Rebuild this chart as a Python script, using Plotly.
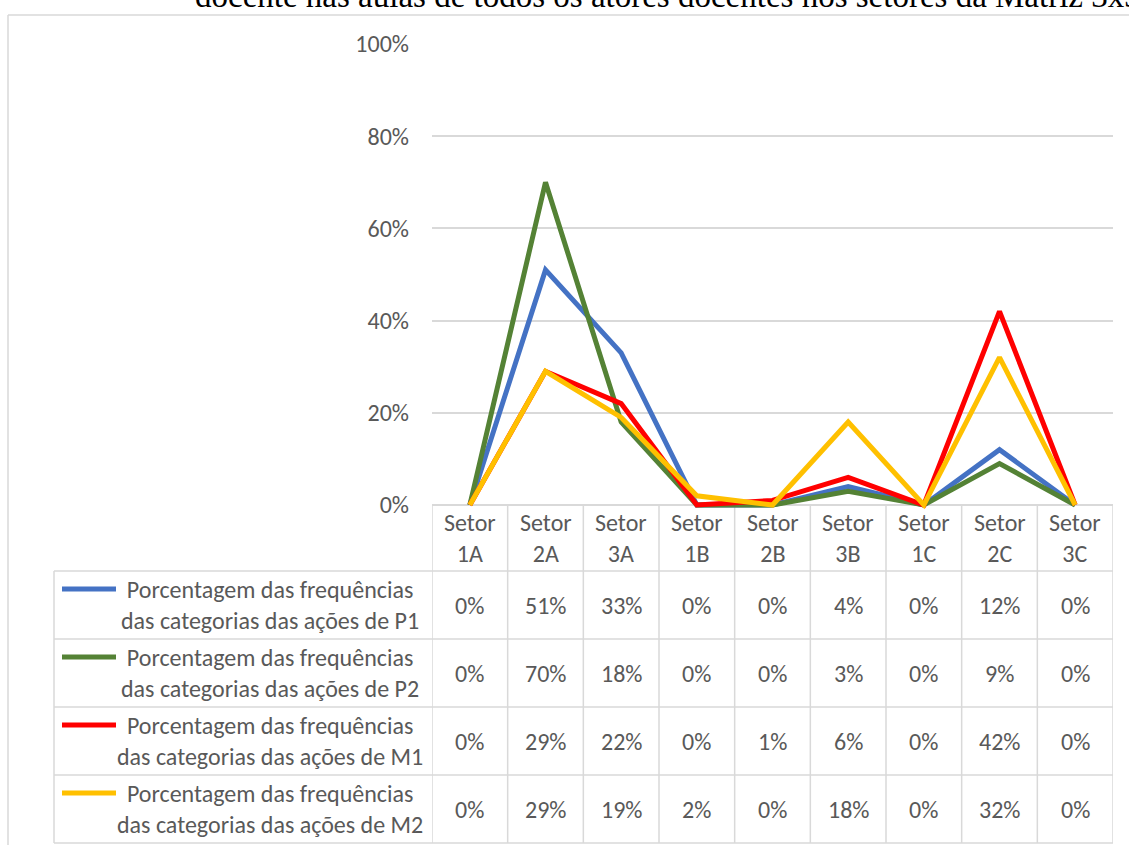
import plotly.graph_objects as go

W, H = 1129, 845

categories = ["Setor 1A", "Setor 2A", "Setor 3A", "Setor 1B", "Setor 2B",
              "Setor 3B", "Setor 1C", "Setor 2C", "Setor 3C"]
series_names = [
    "Porcentagem das frequências<br>das categorias das ações de P1",
    "Porcentagem das frequências<br>das categorias das ações de P2",
    "Porcentagem das frequências<br>das categorias das ações de M1",
    "Porcentagem das frequências<br>das categorias das ações de M2",
]
p1 = [0, 51, 33, 0, 0, 4, 0, 12, 0]
p2 = [0, 70, 18, 0, 0, 3, 0, 9, 0]
m1 = [0, 29, 22, 0, 1, 6, 0, 42, 0]
m2 = [0, 29, 19, 2, 0, 18, 0, 32, 0]
series_values = [p1, p2, m1, m2]
colors = ["#4472C4", "#548235", "#FF0000", "#FFC000"]
y_ticks = [0, 20, 40, 60, 80, 100]
y_tick_labels = ["0%", "20%", "40%", "60%", "80%", "100%"]
title_text = "docente nas aulas de todos os atores docentes nos setores da Matriz 3x3"

FONT = "Carlito, Lato, sans-serif"
FS = 24
GRAY = "#595959"
GRID = "#D9D9D9"


def px(x):
    return x / W


def py(y):
    return 1 - y / H


X0, X1 = 432, 1113
Y_TOP, Y_ZERO = 44, 505
Y_PAD = 4
ppu = (Y_ZERO - Y_TOP) / 100.0
Y_BOT = Y_ZERO + Y_PAD * ppu

fig = go.Figure()
xs = list(range(len(categories)))
for name, vals, col in zip(series_names, series_values, colors):
    fig.add_trace(go.Scatter(
        x=xs, y=vals, mode="lines", name=name,
        line=dict(color=col, width=5), showlegend=False,
        hoverinfo="skip"))

shapes = []
annotations = []

HEAD_TOP, HEAD_BOT = 505, 571
ROW_H = 68
LEG_X0 = 54
row_tops = [HEAD_BOT + i * ROW_H for i in range(len(series_values))]
TABLE_BOT = row_tops[-1] + ROW_H

line_style = dict(color=GRID, width=1.5)

for i in range(len(categories) + 1):
    shapes.append(dict(type="line", xref="x", yref="paper",
                       x0=i - 0.5, x1=i - 0.5, y0=py(HEAD_TOP), y1=py(TABLE_BOT),
                       line=line_style, layer="below"))
shapes.append(dict(type="line", xref="paper", yref="paper",
                   x0=px(LEG_X0), x1=px(LEG_X0), y0=py(HEAD_BOT), y1=py(TABLE_BOT),
                   line=line_style, layer="below"))
for i in range(len(series_values) + 1):
    yy = HEAD_BOT + i * ROW_H
    shapes.append(dict(type="line", xref="paper", yref="paper",
                       x0=px(LEG_X0), x1=px(X1), y0=py(yy), y1=py(yy),
                       line=line_style, layer="below"))

for i, c in enumerate(categories):
    annotations.append(dict(xref="x", yref="paper", x=i, y=py((HEAD_TOP + HEAD_BOT) / 2),
                            text=c.replace(" ", "<br>"), showarrow=False,
                            font=dict(family=FONT, size=FS, color=GRAY),
                            align="center", xanchor="center", yanchor="middle"))

for r, (name, vals, col) in enumerate(zip(series_names, series_values, colors)):
    top = row_tops[r]
    mid = top + ROW_H / 2
    for i, v in enumerate(vals):
        annotations.append(dict(xref="x", yref="paper", x=i, y=py(mid),
                                text=f"{v}%", showarrow=False,
                                font=dict(family=FONT, size=FS, color=GRAY),
                                xanchor="center", yanchor="middle"))
    annotations.append(dict(xref="paper", yref="paper", x=px(270), y=py(mid),
                            text=name, showarrow=False,
                            font=dict(family=FONT, size=FS, color=GRAY),
                            align="center", xanchor="center", yanchor="middle"))
    shapes.append(dict(type="line", xref="paper", yref="paper",
                       x0=px(62), x1=px(116), y0=py(top + 18), y1=py(top + 18),
                       line=dict(color=col, width=5)))

shapes.append(dict(type="line", xref="paper", yref="paper",
                   x0=px(8), x1=px(8), y0=py(15), y1=0, line=line_style))
shapes.append(dict(type="line", xref="paper", yref="paper",
                   x0=px(8), x1=1, y0=py(15), y1=py(15), line=line_style))

annotations.append(dict(xref="paper", yref="paper", x=px(193), y=py(16),
                        text=title_text, showarrow=False,
                        font=dict(family="Liberation Serif, Times New Roman, serif",
                                  size=33, color="black"),
                        xanchor="left", yanchor="bottom"))

fig.update_layout(
    width=W, height=H,
    margin=dict(l=0, r=0, t=0, b=0, autoexpand=False),
    paper_bgcolor="white", plot_bgcolor="white",
    shapes=shapes, annotations=annotations,
    xaxis=dict(domain=[px(X0), px(X1)], range=[-0.5, len(categories) - 0.5],
               visible=False, fixedrange=True, automargin=False),
    yaxis=dict(domain=[py(Y_BOT), py(Y_TOP)], range=[-Y_PAD, 100],
               tickvals=y_ticks, ticktext=y_tick_labels,
               showgrid=True, gridcolor=GRID, gridwidth=1.5,
               zeroline=False, showline=False, ticks="",
               ticklabelstandoff=22, automargin=False,
               tickfont=dict(family=FONT, size=FS, color=GRAY),
               fixedrange=True),
    showlegend=False,
)

post = ("document.documentElement.style.margin='0';"
        "document.body.style.margin='0';document.body.style.overflow='hidden';"
        "var d=document.getElementById('{plot_id}');"
        "d.style.position='absolute';d.style.left='0px';d.style.top='0px';")
fig.write_html("out.html", post_script=post, config={"displayModeBar": False})
